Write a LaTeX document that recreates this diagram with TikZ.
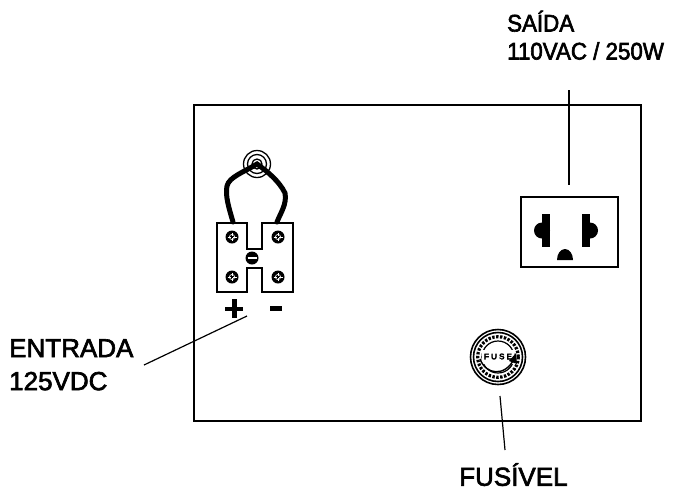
\documentclass[tikz,border=0pt]{standalone}
\usepackage{fontspec}
\setmainfont{Liberation Sans}
\newfontfamily\ftop[FakeBold=2.5,FakeStretch=0.93]{Liberation Sans}
\newfontfamily\fbot[FakeBold=2.5]{Liberation Sans}
\newfontfamily\ffuse[FakeBold=6]{Liberation Sans}
\tikzset{x=1pt,y=-1pt,
 lbl/.style={inner sep=0pt,align=left,anchor=north west,text=black},
 leader/.style={draw=black,line width=1.2pt},
 box/.style={draw=black,line width=1.4pt},
 wire/.style={draw=black,line width=5pt},
 screw/.pic={\fill (0,0) circle (6.5);\draw[white,line width=.7pt] (-4.5,0)--(-1,0) (1,0)--(4.5,0) (0,-4)--(0,-1) (0,1)--(0,4);\draw[white,line width=.6pt] (0,0) circle (2.6);}}
\begin{document}
\begin{tikzpicture}
\useasboundingbox (0,0) rectangle (679,491);
\fill[white] (0,0) rectangle (679,491);
\draw[box] (194,105) rectangle (641,421);
% socket
\node[box,minimum width=97pt,minimum height=70pt,inner sep=0pt] (socket) at (569.5,232) {};
\fill (542,214) rectangle (550,247);
\fill (542,230.5) circle (8);
\fill (582,214) rectangle (590,247);
\fill (590,230.5) circle (8);
\fill (557,260) arc[start angle=180,end angle=360,x radius=8,y radius=11] -- cycle;
% terminal block
\draw[box] (217,223) -- (247,223) -- (247,249) -- (262,249) -- (262,223) -- (293,223) -- (293,292) -- (262,292) -- (262,268) -- (247,268) -- (247,292) -- (217,292) -- cycle;
\pic at (232,237) {screw};
\pic at (278,237) {screw};
\pic at (232,277) {screw};
\pic at (278,277) {screw};
\fill (252,258) circle (6.5);
\draw[white,line width=1.2pt] (247.5,258)--(256.5,258);
% ring & wire
\draw[line width=1.3pt] (257,164) circle (13.5) (257,164) circle (9.5);
\draw[line width=1.3pt] (257,164) circle (5);
\draw[wire,line cap=round,line join=miter] (233,222) .. controls (229,208) and (225,196) .. (227,186) .. controls (229,177) and (244,172) .. (257,164) .. controls (268,172) and (279,181) .. (285,193) .. controls (287,204) and (281,212) .. (277,222);
% + -
\fill (225,306.5) rectangle (243,311);
\fill (232,299) rectangle (236.5,318);
\fill (270,306) rectangle (282,311);
% fuse
\draw[line width=1.6pt] (498,357) circle (27.5) (498,357) circle (24.5);
\draw[line width=1.2pt] (498,357) circle (16);
\draw[line width=3.2pt,dash pattern=on 2.4pt off 1.5pt] (498,357) circle (20.3);
\fill[white] (482,350) rectangle (514,364);
\node[inner sep=0pt,font=\ffuse\fontsize{8}{8}\selectfont] (fuse) at (498,356.5) {F\kern2.2pt U\kern2.2pt S\kern2.2pt E};
\draw[line width=1.4pt] (480,359) .. controls (486,375) and (505,377) .. (514,359);
\fill (516,353) -- (509,361) -- (517,364) -- cycle;
% leaders
\coordinate (a1) at (569,90); \coordinate (a2) at (569,185);
\draw[leader] (a1)--(a2);
\coordinate (b1) at (144,365); \coordinate (b2) at (247,316);
\draw[leader] (b1)--(b2);
\coordinate (c1) at (500,396); \coordinate (c2) at (505,450);
\draw[leader] (c1)--(c2);
% labels
\node[lbl,font=\ftop\fontsize{24}{28}\selectfont] (t1) at (507,10.5) {SAÍDA\\110VAC / 250W};
\node[lbl,font=\fbot\fontsize{26}{33}\selectfont] (t2) at (9,339) {ENTRADA\\125VDC};
\node[lbl,font=\fbot\fontsize{26}{33}\selectfont,text depth=0pt] (t3) at (459,463) {FUSÍVEL};
\end{tikzpicture}
\end{document}
